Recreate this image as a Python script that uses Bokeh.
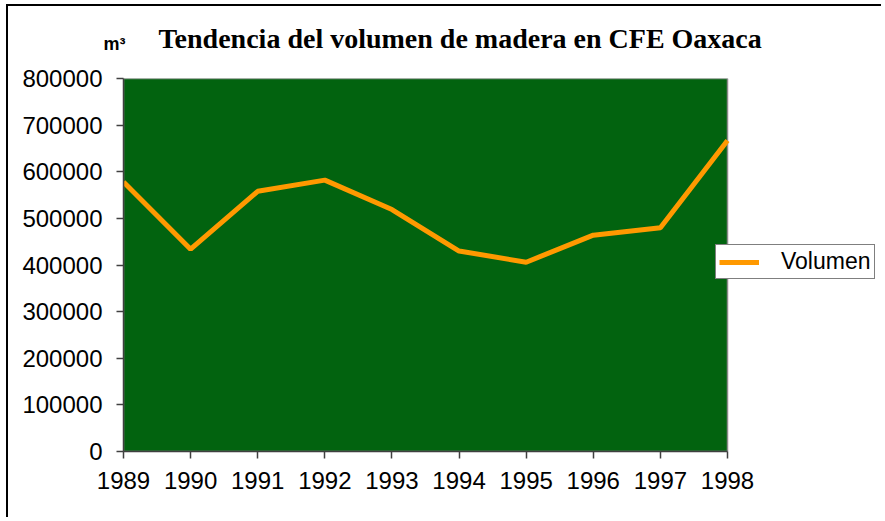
from bokeh.plotting import figure
from bokeh.models import (Range1d, FixedTicker, BasicTickFormatter, Title, Legend, LegendItem,
                          ColumnDataSource)
from bokeh.embed import file_html
from bokeh.resources import INLINE

# data
years = [1989, 1990, 1991, 1992, 1993, 1994, 1995, 1996, 1997, 1998]
volumen = [578000, 434000, 558000, 582000, 519000, 430000, 406000, 464000, 480000, 667000]
y_ticks = [0, 100000, 200000, 300000, 400000, 500000, 600000, 700000, 800000]
title_text = "Tendencia del volumen de madera  en CFE Oaxaca"
unit_text = "m\u00b3"
series_name = "Volumen"

W, H = 875, 513
LEFT, TOP, BOTTOM = 115, 71, 68
area_w = 604          # pixel width of the green plotting area
frame_w = W - LEFT
x_end = years[0] + (years[-1] - years[0]) * frame_w / area_w

p = figure(width=W, height=H, output_backend="svg", toolbar_location=None,
           x_range=Range1d(years[0], x_end), y_range=Range1d(y_ticks[0], y_ticks[-1]),
           min_border_left=LEFT, min_border_right=0, min_border_top=TOP, min_border_bottom=BOTTOM,
           title=title_text)
p.styles = {"border-left": "2px solid black", "border-top": "2px solid black",
            "margin-left": "6px", "margin-top": "4px"}

p.background_fill_color = "white"
p.border_fill_color = "white"
p.outline_line_color = None
p.xgrid.visible = False
p.ygrid.visible = False

# green plotting area bounded by the data extent
p.quad(left=[years[0]], right=[years[-1]], bottom=[y_ticks[0]], top=[y_ticks[-1]],
       fill_color="#02630f", line_color="#8a8a8a", line_width=1.5)

src = ColumnDataSource(dict(x=years, y=volumen))
r = p.line("x", "y", source=src, line_color="#ff9900", line_width=5)

for ax in (p.xaxis[0], p.yaxis[0]):
    ax.axis_line_color = "#404040"
    ax.axis_line_width = 1.5
    ax.major_tick_line_color = "#404040"
    ax.major_tick_line_width = 1.5
    ax.major_tick_in = 0
    ax.major_tick_out = 7
    ax.minor_tick_line_color = None
    ax.major_label_text_font = "Liberation Sans"
    ax.major_label_text_font_size = "24px"
    ax.major_label_text_color = "black"

p.xaxis.ticker = FixedTicker(ticks=years)
p.xaxis.formatter = BasicTickFormatter(use_scientific=False)
p.xaxis.major_label_standoff = 13
p.xaxis.bounds = (years[0], years[-1])
p.yaxis.ticker = FixedTicker(ticks=y_ticks)
p.yaxis.formatter = BasicTickFormatter(use_scientific=False)
p.yaxis.major_label_standoff = 14

# outer row: main title (pulled down next to the unit label)
p.title.text_font = "Liberation Serif"
p.title.text_font_style = "bold"
p.title.text_font_size = "28px"
p.title.text_color = "black"
p.title.align = "left"
p.title.offset = 35
p.title.standoff = -95

# inner row: unit label
unit = Title(text=unit_text, text_font="Liberation Sans", text_font_style="bold",
             text_font_size="18px", text_color="black", align="left", offset=-20, standoff=50)
p.add_layout(unit, "above")

legend = Legend(items=[LegendItem(label=series_name, renderers=[r])],
                location=(592, 172),
                glyph_width=40, glyph_height=20, label_height=20, label_standoff=22,
                padding=3, spacing=0, margin=0,
                label_text_font="Liberation Sans", label_text_font_size="23px",
                label_text_color="black",
                border_line_color="black", border_line_width=1,
                background_fill_color="white", background_fill_alpha=1.0)
p.add_layout(legend, "center")

open("out.html", "w").write(file_html(p, INLINE))
